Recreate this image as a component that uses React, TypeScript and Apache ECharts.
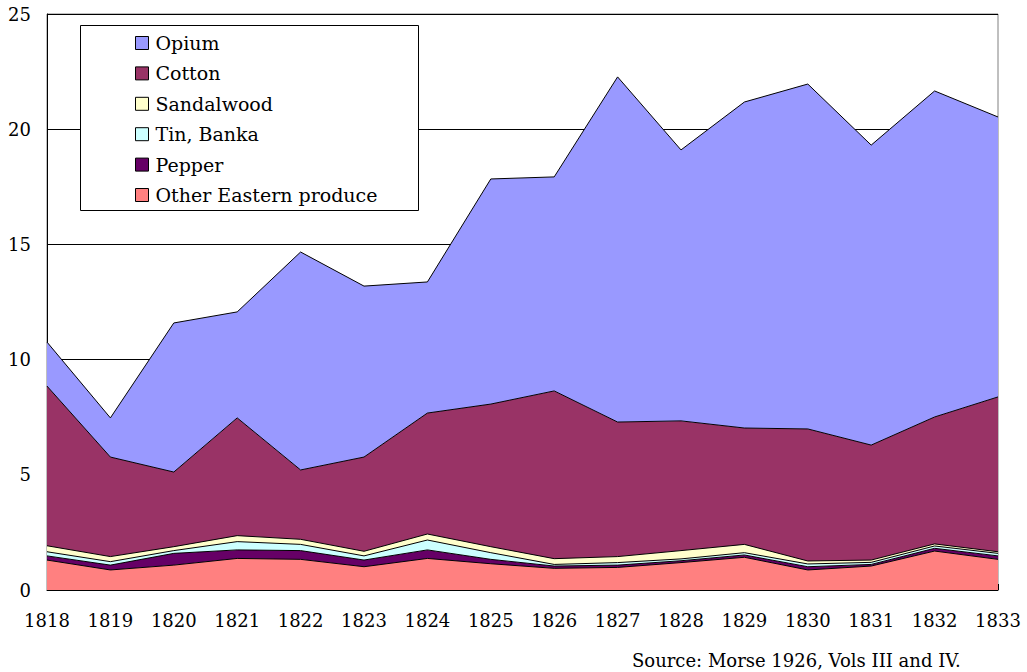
import React, { useEffect, useRef } from "react";
import * as echarts from "echarts";

const years = ["1818","1819","1820","1821","1822","1823","1824","1825","1826","1827","1828","1829","1830","1831","1832","1833"];
const otherEastern = [1.30,0.87,1.08,1.37,1.33,1.01,1.37,1.14,0.94,0.98,1.19,1.42,0.87,1.04,1.69,1.33];
const pepper = [0.18,0.21,0.51,0.37,0.38,0.29,0.37,0.19,0.10,0.10,0.08,0.10,0.14,0.07,0.12,0.15];
const tinBanka = [0.18,0.15,0.12,0.36,0.27,0.18,0.43,0.29,0.07,0.11,0.08,0.10,0.12,0.09,0.10,0.11];
const sandalwood = [0.26,0.22,0.17,0.26,0.22,0.20,0.26,0.26,0.25,0.26,0.36,0.36,0.13,0.10,0.09,0.07];
const cotton = [6.93,4.32,3.24,5.11,3.01,4.09,5.25,6.19,7.28,5.84,5.63,5.05,5.73,4.99,5.51,6.72];
const opium = [1.91,1.70,6.47,4.60,9.46,7.42,5.69,9.77,9.29,14.98,11.76,14.15,14.97,13.02,14.15,12.15];
const legendOrder = ["Opium","Cotton","Sandalwood","Tin, Banka","Pepper","Other Eastern produce"];
const sourceNote = "Source: Morse 1926, Vols III and IV.";

const FONT = "'DejaVu Serif', 'Liberation Serif', serif";

export default function App() {
  const ref = useRef<HTMLDivElement>(null);
  useEffect(() => {
    if (!ref.current) return;
    const chart = echarts.init(ref.current, null, { renderer: "svg" });
    const mk = (name: string, data: number[], color: string) => ({
      name,
      type: "line",
      stack: "total",
      data,
      symbol: "none",
      showSymbol: false,
      itemStyle: { color },
      lineStyle: { color: "#000", width: 1 },
      areaStyle: { color, opacity: 1 },
      z: 2,
    });
    chart.setOption({
      animation: false,
      grid: { left: 47, right: 29, top: 14, bottom: 82, show: true, borderColor: "#808080", borderWidth: 1, backgroundColor: "transparent" },
      xAxis: {
        type: "category",
        data: years,
        boundaryGap: false,
        axisLine: { lineStyle: { color: "#000", width: 1 } },
        axisTick: { inside: true, length: 6, lineStyle: { color: "#000" } },
        axisLabel: { color: "#000", fontFamily: FONT, fontSize: 18, margin: 21 },
        splitLine: { show: false },
      },
      yAxis: {
        type: "value",
        min: 0,
        max: 25,
        interval: 5,
        axisLine: { show: true, lineStyle: { color: "#000", width: 1 } },
        axisTick: { show: true, inside: true, length: 6, lineStyle: { color: "#000" } },
        axisLabel: { color: "#000", fontFamily: FONT, fontSize: 18, margin: 16 },
        splitLine: { show: true, lineStyle: { color: "#000", width: 1 } },
      },
      legend: {
        data: legendOrder,
        orient: "vertical",
        left: 135,
        top: 33.5,
        padding: 0,
        icon: "rect",
        itemWidth: 13,
        itemHeight: 13,
        itemGap: 11.4,
        itemStyle: { borderColor: "#000", borderWidth: 1 },
        textStyle: { color: "#000", fontFamily: FONT, fontSize: 19, padding: [0, 0, 0, 2] },
        z: 10,
      },
      graphic: [
        { type: "rect", left: 80, top: 25, z: 5, shape: { width: 338, height: 185 }, style: { fill: "#fff", stroke: "#000", lineWidth: 1 } },
        { type: "text", left: 632, top: 651, z: 5, style: { text: sourceNote, fill: "#000", font: `18px ${FONT}` } },
      ],
      series: [
        mk("Other Eastern produce", otherEastern, "#FF8080"),
        mk("Pepper", pepper, "#660066"),
        mk("Tin, Banka", tinBanka, "#CCFFFF"),
        mk("Sandalwood", sandalwood, "#FFFFCC"),
        mk("Cotton", cotton, "#993366"),
        mk("Opium", opium, "#9999FF"),
      ],
    });
    return () => chart.dispose();
  }, []);
  return <div ref={ref} style={{ width: 1027, height: 672, position: "absolute", left: 0, top: 0 }} />;
}
